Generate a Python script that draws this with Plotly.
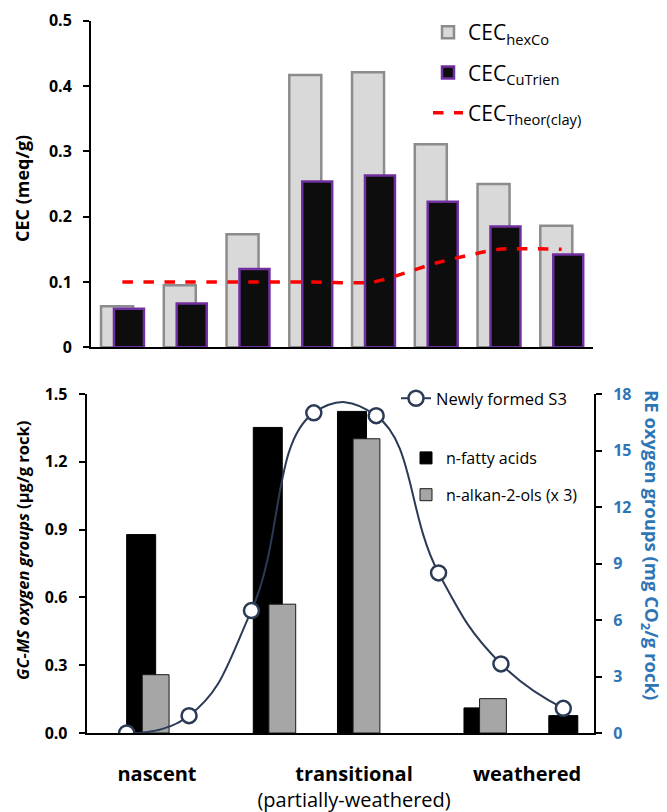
import plotly.graph_objects as go

# ---------------- data: top panel (CEC) ----------------
cec_samples = [0, 1, 2, 3, 4, 5, 6, 7]
cec_hexco = [0.063, 0.095, 0.173, 0.417, 0.421, 0.311, 0.250, 0.186]
cec_cutrien = [0.059, 0.067, 0.120, 0.254, 0.263, 0.223, 0.185, 0.142]
cec_theor = [0.10, 0.10, 0.10, 0.10, 0.10, 0.129, 0.15, 0.15]
cec_tickvals = [0, 0.1, 0.2, 0.3, 0.4, 0.5]
cec_ticktext = ["0", "0.1", "0.2", "0.3", "0.4", "0.5"]

# ---------------- data: bottom panel ----------------
s3_samples = [1, 2, 3, 4, 5, 6, 7, 8]
s3_values = [0.0, 0.92, 6.5, 17.0, 16.85, 8.5, 3.67, 1.31]
gcms_samples = [1.232, 3.262, 4.612, 6.64, 8.0]
fatty_acids = [0.878, 1.352, 1.423, 0.111, 0.077]
alkan2ols = [0.258, 0.570, 1.302, 0.152, None]
gc_tickvals = [0, 0.3, 0.6, 0.9, 1.2, 1.5]
re_tickvals = [0, 3, 6, 9, 12, 15, 18]
stage_pos = [1.486, 4.645, 7.418]
stage_labels = ["<b>nascent</b>",
                "<b>transitional</b><br>(partially-weathered)",
                "<b>weathered</b>"]

FONT = "Open Sans"
BLUE = "#2e75b6"
NAVY = "#2b3a55"

# the page body has an 8px margin, so the figure is drawn 8px in
OFF = 8
W, H = 667 - OFF, 812 - OFF


def px_x(v):
    return (v - OFF) / W


def px_y(v):
    return 1 - (v - OFF) / H


fig = go.Figure()

# top bars
fig.add_trace(go.Bar(
    x=cec_samples, y=cec_hexco, name="CEC<sub>hexCo</sub>",
    offset=-0.34, width=0.51,
    marker=dict(color="#d9d9d9", line=dict(color="#8c8c8c", width=2.5)),
    xaxis="x", yaxis="y", legend="legend", legendgroup="a"))
fig.add_trace(go.Bar(
    x=cec_samples, y=cec_cutrien, name="CEC<sub>CuTrien</sub>",
    offset=-0.134, width=0.478,
    marker=dict(color="#0d0d0d", line=dict(color="#7030a0", width=2.5)),
    xaxis="x", yaxis="y", legend="legend", legendgroup="b"))
fig.add_trace(go.Scatter(
    x=cec_samples, y=cec_theor, name="CEC<sub>Theor(clay)</sub>",
    mode="lines", line=dict(color="#ff0000", width=3.5, dash="dash",
                            shape="spline", smoothing=0.6),
    xaxis="x", yaxis="y", legend="legend", legendgroup="c"))

# bottom bars
fig.add_trace(go.Bar(
    x=gcms_samples, y=fatty_acids, name="n-fatty acids",
    offset=-0.2325, width=0.465,
    marker=dict(color="#000000", line=dict(color="#000000", width=1)),
    xaxis="x2", yaxis="y2", legend="legend2", legendgroup="d"))
fig.add_trace(go.Bar(
    x=gcms_samples, y=alkan2ols, name="n-alkan-2-ols (x 3)",
    offset=0.0175, width=0.43,
    marker=dict(color="#a6a6a6", line=dict(color="#1a1a1a", width=1)),
    xaxis="x2", yaxis="y2", legend="legend2", legendgroup="e"))
fig.add_trace(go.Scatter(
    x=s3_samples, y=s3_values, name="Newly formed S3",
    mode="lines+markers",
    line=dict(color=NAVY, width=2, shape="spline", smoothing=1.3),
    marker=dict(size=15, color="white", line=dict(color=NAVY, width=2.5)),
    xaxis="x2", yaxis="y3", legend="legend3"))

tickfont = dict(family=FONT, size=16, color="black", weight="bold")

fig.update_layout(
    width=W, height=H,
    margin=dict(l=0, r=0, t=0, b=0, pad=0, autoexpand=False),
    paper_bgcolor="white", plot_bgcolor="white",
    barmode="overlay",
    showlegend=True,
    font=dict(family=FONT, color="black"),
    xaxis=dict(domain=[px_x(91), px_x(593)], range=[-0.5, 7.5],
               showline=True, linecolor="black", linewidth=2,
               showticklabels=False, ticks="", showgrid=False,
               zeroline=False, anchor="y", fixedrange=True,
               automargin=False),
    yaxis=dict(domain=[px_y(347.3), px_y(20.7)], range=[0, 0.5],
               tickvals=cec_tickvals, ticktext=cec_ticktext,
               showline=True, linecolor="black", linewidth=2,
               ticks="outside", ticklen=6, tickwidth=2, tickcolor="black",
               ticklabelstandoff=8, automargin=False,
               tickfont=tickfont, showgrid=False, zeroline=False,
               anchor="x"),
    xaxis2=dict(domain=[px_x(86.7), px_x(594)], range=[0.359, 8.492],
                showline=True, linecolor="black", linewidth=2,
                tickvals=stage_pos, ticktext=stage_labels,
                ticks="", ticklabelstandoff=22, automargin=False,
                tickfont=dict(family=FONT, size=20, color="black"),
                showgrid=False, zeroline=False, anchor="y2"),
    yaxis2=dict(domain=[px_y(733), px_y(394)], range=[0, 1.5],
                tickvals=gc_tickvals, tickformat=".1f",
                showline=True, linecolor="black", linewidth=2,
                ticks="outside", ticklen=6, tickwidth=2, tickcolor="black",
                ticklabelstandoff=8, automargin=False,
                tickfont=tickfont, showgrid=False, zeroline=False,
                anchor="x2"),
    yaxis3=dict(domain=[px_y(733), px_y(394)], range=[0, 18],
                overlaying="y2", side="right", anchor="x2",
                tickvals=re_tickvals, automargin=False,
                showline=True, linecolor="black", linewidth=2,
                ticks="outside", ticklen=6, tickwidth=2, tickcolor="black",
                ticklabelstandoff=8,
                tickfont=dict(family=FONT, size=16, color=BLUE, weight="bold"),
                showgrid=False, zeroline=False),
    legend=dict(x=px_x(428), y=px_y(12), xanchor="left", yanchor="top",
                bgcolor="rgba(0,0,0,0)", tracegroupgap=10,
                font=dict(family=FONT, size=21, color="black")),
    legend2=dict(x=px_x(406), y=px_y(441), xanchor="left", yanchor="top",
                 bgcolor="rgba(0,0,0,0)", tracegroupgap=13,
                 font=dict(family=FONT, size=16, color="black")),
    legend3=dict(x=px_x(396), y=px_y(381), xanchor="left", yanchor="top",
                 bgcolor="rgba(0,0,0,0)",
                 font=dict(family=FONT, size=16.5, color="black")),
    annotations=[
        dict(text="<b>CEC (meq/g)</b>", x=px_x(22), y=px_y(189),
             xref="paper", yref="paper", textangle=-90, showarrow=False,
             xanchor="center", yanchor="middle",
             font=dict(family=FONT, size=18, color="black")),
        dict(text="<b><i>GC-MS oxygen groups</i> (µg/g rock)</b>",
             x=px_x(22), y=px_y(551), xref="paper", yref="paper",
             textangle=-90, showarrow=False,
             xanchor="center", yanchor="middle",
             font=dict(family=FONT, size=16.5, color="black")),
        dict(text="<b>RE oxygen groups (mg CO<sub>2</sub>/g rock)</b>",
             x=px_x(651), y=px_y(545), xref="paper", yref="paper",
             textangle=90, showarrow=False,
             xanchor="center", yanchor="middle",
             font=dict(family=FONT, size=18.5, color=BLUE)),
    ],
)

fig.write_html("out.html")
